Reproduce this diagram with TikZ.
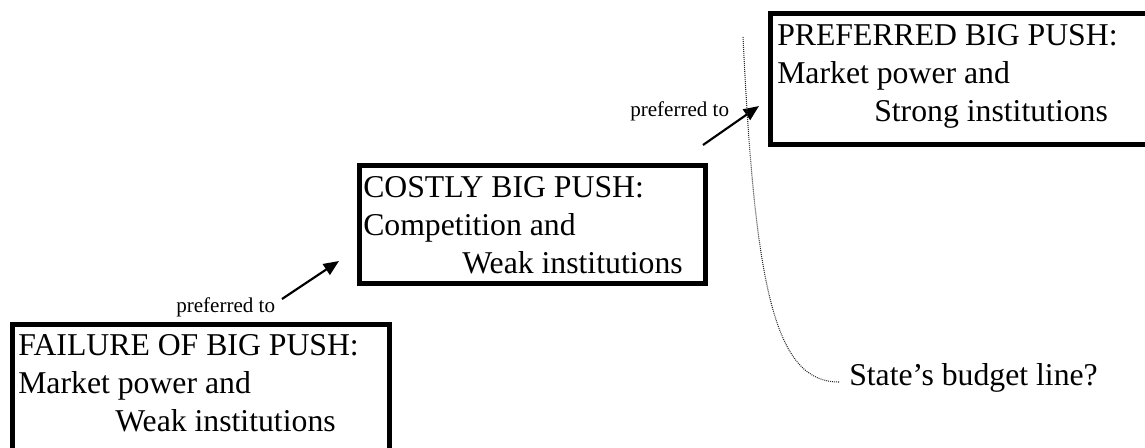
\documentclass[tikz,border=0pt]{standalone}
\usepackage{fontspec}
\setmainfont{Liberation Serif}
\usetikzlibrary{arrows.meta}
\tikzset{
  box/.style={draw=black, line width=3.9pt, outer sep=0pt, inner sep=0pt, anchor=north west},
  big/.style={font=\fontsize{23.8pt}{28pt}\selectfont, inner sep=0pt, anchor=base west},
  small/.style={font=\fontsize{15.8pt}{19pt}\selectfont, inner sep=0pt, anchor=base west},
  arr/.style={line width=1.6pt, -{Triangle[length=11.5pt,width=9.5pt]}},
  budget/.style={line width=0.8pt, black!85, dash pattern=on 0.7pt off 0.8pt}
}
\begin{document}
\begin{tikzpicture}[x=0.75pt,y=-0.75pt]
\useasboundingbox (0,0) rectangle (1145,447);
% boxes
\node[box, minimum width=282.75pt, minimum height=101.6pt] (box1) at (12.5,324.5) {};
\node[box, minimum width=259.5pt, minimum height=88.5pt] (box2) at (359.5,165.5) {};
\node[box, minimum width=288.4pt, minimum height=98.25pt] (box3) at (770.5,13.5) {};
% box 1 text
\node[big] (t11) at (18,355) {FAILURE OF BIG PUSH:};
\node[big] (t12) at (18,393) {Market power and};
\node[big] (t13) at (115,431) {Weak institutions};
% box 2 text
\node[big] (t21) at (363,197) {COSTLY BIG PUSH:};
\node[big] (t22) at (363,235) {Competition and};
\node[big] (t23) at (462,273) {Weak institutions};
% box 3 text
\node[big] (t31) at (777,45) {PREFERRED BIG PUSH:};
\node[big] (t32) at (777,83) {Market power and};
\node[big] (t33) at (874,121) {Strong institutions};
% preferred-to labels and arrows
\node[small] (p1) at (176,312) {preferred to};
\node[small] (p2) at (630,116) {preferred to};
\coordinate (a1s) at (282,299);
\coordinate (a1e) at (339,261);
\coordinate (a2s) at (703,145);
\coordinate (a2e) at (759,106);
\draw[arr] (a1s) -- (a1e);
\draw[arr] (a2s) -- (a2e);
% budget line
\coordinate (c0) at (743,37);
\coordinate (c1) at (839,382);
\node[big] (sbl) at (849,385) {State’s budget line?};
\draw[budget] (c0) .. controls (755,290) and (775,382) .. (c1);
\end{tikzpicture}
\end{document}
